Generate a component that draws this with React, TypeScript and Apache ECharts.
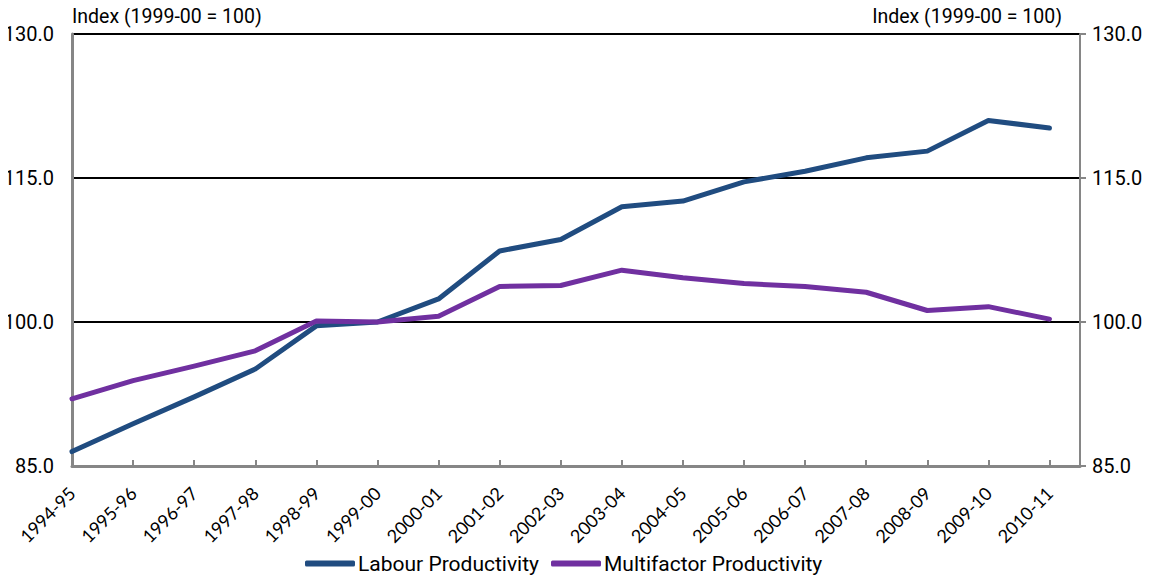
import React, { useEffect, useRef } from "react";
import * as echarts from "echarts";

// Financial years on the horizontal axis
const categories = [
  "1994-95", "1995-96", "1996-97", "1997-98", "1998-99", "1999-00",
  "2000-01", "2001-02", "2002-03", "2003-04", "2004-05", "2005-06",
  "2006-07", "2007-08", "2008-09", "2009-10", "2010-11",
];

// Index values, 1999-00 = 100
const labourProductivity = [
  86.5, 89.4, 92.2, 95.1, 99.6, 100.0, 102.4, 107.4, 108.6,
  112.0, 112.6, 114.6, 115.7, 117.1, 117.8, 121.0, 120.2,
];
const multifactorProductivity = [
  92.0, 93.9, 95.4, 97.0, 100.1, 100.0, 100.6, 103.7, 103.8,
  105.4, 104.6, 104.0, 103.7, 103.1, 101.2, 101.6, 100.3,
];

const axisTitle = "Index (1999-00 = 100)";

const FONT = "Roboto, 'Liberation Sans', sans-serif";
const BLUE = "#204C80";
const PURPLE = "#7030A0";
const GREY = "#868686";

export default function App() {
  const ref = useRef<HTMLDivElement>(null);

  useEffect(() => {
    if (!ref.current) return;
    const chart = echarts.init(ref.current, undefined, { renderer: "svg" });
    const idx = categories.map((_, i) => i);

    const yLabel = {
      color: "#000",
      fontFamily: FONT,
      fontSize: 20,
      formatter: (v: number) => v.toFixed(1),
    };

    chart.setOption({
      animation: false,
      backgroundColor: "#fff",
      grid: { left: 72, right: 71, top: 34, bottom: 110, containLabel: false },
      legend: {
        bottom: -3,
        left: 300,
        itemWidth: 50,
        itemHeight: 6,
        itemGap: 12,
        icon: "roundRect",
        textStyle: { fontFamily: FONT, fontSize: 21, color: "#000", padding: [0, 0, 0, -2] },
        data: ["Labour Productivity", "Multifactor Productivity"],
      },
      xAxis: {
        type: "value",
        min: 0,
        max: categories.length - 0.5,
        axisLine: { show: true, lineStyle: { color: GREY, width: 3 } },
        axisTick: {
          show: true,
          inside: true,
          length: 6,
          lineStyle: { color: GREY, width: 2 },
          customValues: idx,
        },
        axisLabel: {
          rotate: 45,
          margin: 24,
          color: "#000",
          fontFamily: "Lato, 'Open Sans', sans-serif",
          fontSize: 18,
          customValues: idx,
          formatter: (v: number) => categories[Math.round(v)] ?? "",
        },
        splitLine: { show: false },
      },
      yAxis: [
        {
          type: "value",
          position: "left",
          min: 85,
          max: 130,
          interval: 15,
          name: axisTitle,
          nameLocation: "end",
          nameGap: 8,
          nameTextStyle: {
            fontFamily: FONT,
            fontSize: 19.5,
            color: "#000",
            align: "left",
            verticalAlign: "bottom",
          },
          axisLine: { show: true, lineStyle: { color: GREY, width: 3 } },
          axisTick: { show: false },
          axisLabel: { ...yLabel, margin: 18 },
          splitLine: { show: true, lineStyle: { color: "#000", width: 2 } },
        },
        {
          type: "value",
          position: "right",
          min: 85,
          max: 130,
          interval: 15,
          name: axisTitle,
          nameLocation: "end",
          nameGap: 8,
          nameTextStyle: {
            fontFamily: FONT,
            fontSize: 19.5,
            color: "#000",
            align: "right",
            verticalAlign: "bottom",
            padding: [0, 18, 0, 0],
          },
          axisLine: { show: true, lineStyle: { color: GREY, width: 2 } },
          axisTick: { show: true, inside: false, length: 6, lineStyle: { color: GREY, width: 2 } },
          axisLabel: { ...yLabel, margin: 12 },
          splitLine: { show: false },
        },
      ],
      series: [
        {
          name: "Labour Productivity",
          type: "line",
          data: labourProductivity.map((v, i) => [i, v]),
          symbol: "none",
          lineStyle: { color: BLUE, width: 5, cap: "round", join: "round" },
          itemStyle: { color: BLUE },
          z: 3,
        },
        {
          name: "Multifactor Productivity",
          type: "line",
          data: multifactorProductivity.map((v, i) => [i, v]),
          symbol: "none",
          lineStyle: { color: PURPLE, width: 5, cap: "round", join: "round" },
          itemStyle: { color: PURPLE },
          z: 4,
        },
      ],
    });

    return () => chart.dispose();
  }, []);

  return (
    <div
      ref={ref}
      style={{ width: 1151, height: 576, marginTop: -8, marginLeft: -8 }}
    />
  );
}
